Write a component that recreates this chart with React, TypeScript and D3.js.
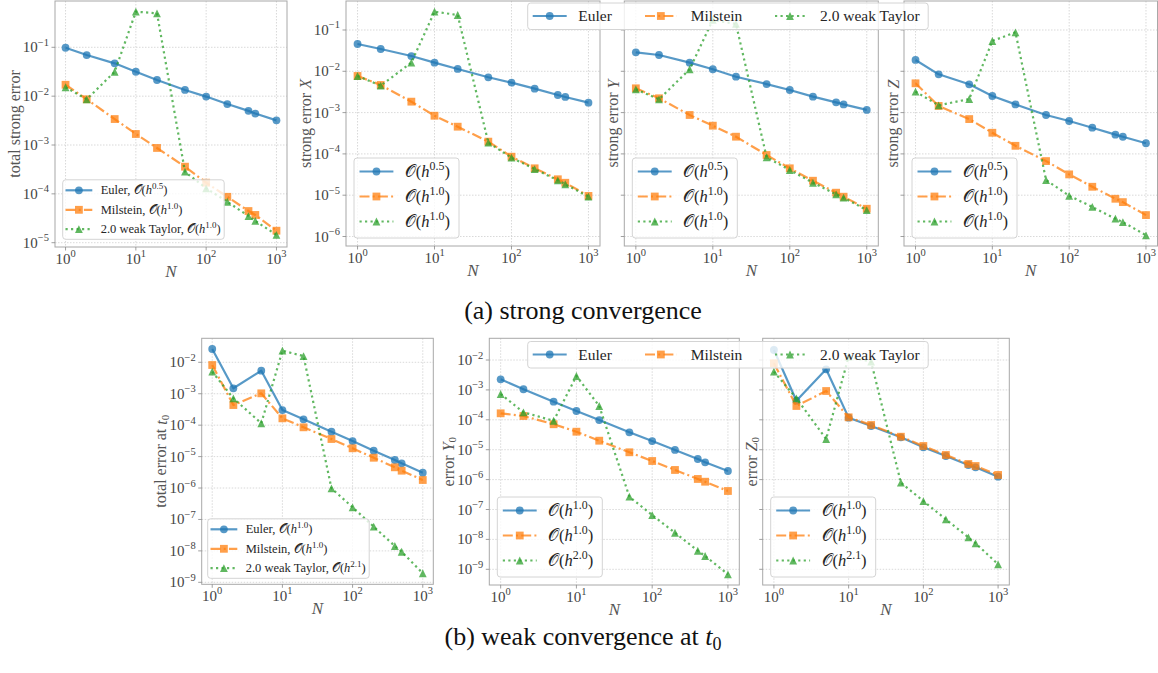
import React from 'react';
import * as d3 from 'd3';

// step counts used for every panel
const N = [1, 2, 5, 10, 20, 50, 100, 200, 400, 500, 1000];
const methodNames = ['Euler', 'Milstein', '2.0 weak Taylor'];
const xTickValues = [1, 10, 100, 1000];

// (a) strong convergence
const totalStrongEuler = [0.098, 0.0695, 0.047, 0.0316, 0.0214, 0.0134, 0.0098, 0.0069, 0.005, 0.0044, 0.0032];
const totalStrongMilstein = [0.0171, 0.00863, 0.0034, 0.00168, 0.00087, 0.00036, 0.000169, 8.7e-5, 4.45e-5, 3.7e-5, 1.76e-5];
const totalStrongTaylor = [0.0152, 0.00863, 0.0316, 0.536, 0.497, 0.000284, 0.00013, 6.9e-5, 3.5e-5, 2.8e-5, 1.44e-5];

const strongXEuler = [0.0458, 0.0347, 0.0234, 0.0162, 0.0114, 0.00716, 0.0053, 0.0038, 0.00267, 0.00239, 0.00174];
const strongXMilstein = [0.0077, 0.00466, 0.00184, 0.00084, 0.000456, 0.000198, 8.55e-5, 4.48e-5, 2.43e-5, 2.0e-5, 9.6e-6];
const strongXTaylor = [0.0077, 0.00449, 0.0162, 0.277, 0.231, 0.000187, 8.1e-5, 4.3e-5, 2.29e-5, 1.84e-5, 9.2e-6];

const strongYEuler = [0.0288, 0.0248, 0.0162, 0.0112, 0.0074, 0.0049, 0.00352, 0.00243, 0.00177, 0.00158, 0.00116];
const strongYMilstein = [0.00387, 0.00222, 0.000875, 0.000482, 0.000261, 9.4e-5, 4.48e-5, 2.24e-5, 1.15e-5, 9.2e-6, 4.7e-6];
const strongYTaylor = [0.00366, 0.0021, 0.0112, 0.175, 0.14, 8.3e-5, 4.07e-5, 2.0e-5, 1.05e-5, 8.7e-6, 4.37e-6];

const strongZEuler = [0.0188, 0.00845, 0.00484, 0.00252, 0.00158, 0.000875, 0.000626, 0.000431, 0.000292, 0.00026, 0.000181];
const strongZMilstein = [0.00512, 0.00145, 0.000697, 0.000325, 0.000157, 6.7e-5, 3.19e-5, 1.6e-5, 8.2e-6, 6.8e-6, 3.3e-6];
const strongZTaylor = [0.00322, 0.0015, 0.00213, 0.0542, 0.088, 2.33e-5, 9.7e-6, 5.2e-6, 2.7e-6, 2.24e-6, 1.07e-6];

// (b) weak convergence at t0
const weakTotalEuler = [0.0265, 0.00149, 0.0054, 0.000303, 0.000153, 6.2e-5, 3.13e-5, 1.54e-5, 7.8e-6, 6.1e-6, 3.07e-6];
const weakTotalMilstein = [0.0082, 0.000437, 0.00103, 0.000165, 8.55e-5, 3.63e-5, 1.84e-5, 9.2e-6, 4.56e-6, 3.56e-6, 1.8e-6];
const weakTotalTaylor = [0.00502, 0.000716, 0.000115, 0.0234, 0.0158, 9.8e-7, 2.44e-7, 5.9e-8, 1.43e-8, 9.4e-9, 1.94e-9];

const weakYEuler = [0.00226, 0.00105, 0.000403, 0.000197, 9.8e-5, 3.82e-5, 1.95e-5, 9.8e-6, 4.89e-6, 3.79e-6, 1.94e-6];
const weakYMilstein = [0.000165, 0.000134, 7.1e-5, 4.0e-5, 2.0e-5, 8.2e-6, 4.19e-6, 2.1e-6, 1.05e-6, 8.5e-7, 4.16e-7];
const weakYTaylor = [0.00073, 0.000178, 9.3e-5, 0.00292, 0.00029, 2.68e-7, 6.5e-8, 1.67e-8, 4.18e-9, 2.79e-9, 6.8e-10];

const weakZEuler = [0.0216, 0.000436, 0.00489, 0.000118, 6.2e-5, 2.6e-5, 1.2e-5, 6.15e-6, 3.08e-6, 2.58e-6, 1.25e-6];
const weakZMilstein = [0.00776, 0.00029, 0.000918, 0.000121, 6.7e-5, 2.72e-5, 1.33e-5, 6.65e-6, 3.33e-6, 2.85e-6, 1.43e-6];
const weakZTaylor = [0.00406, 0.000524, 2.28e-5, 0.0129, 0.00877, 7.9e-7, 1.92e-7, 4.7e-8, 1.17e-8, 7.4e-9, 1.47e-9];

// convergence orders shown in the legends
const ordersTotalStrong = ['0.5', '1.0', '1.0'];
const ordersStrongXYZ = ['0.5', '1.0', '1.0'];
const ordersWeakTotal = ['1.0', '1.0', '2.1'];
const ordersWeakY = ['1.0', '1.0', '2.0'];
const ordersWeakZ = ['1.0', '1.0', '2.1'];

const FONT = '"Liberation Serif", "DejaVu Serif", serif';
const COLORS = ['#1f77b4', '#ff7f0e', '#2ca02c'];
const DASHES = [undefined, '10,3.2,2,3.2', '2.2,3.3'];
const ALPHA = 0.75;

const Marker = ({ kind, x, y }: { kind: number; x: number; y: number }) => {
  const c = COLORS[kind];
  const s = 3.9;
  if (kind === 0) return <circle cx={x} cy={y} r={s} fill={c} fillOpacity={ALPHA} />;
  if (kind === 1) return <rect x={x - s} y={y - s} width={2 * s} height={2 * s} fill={c} fillOpacity={ALPHA} />;
  return <path d={`M${x},${y - s}L${x + s},${y + s}L${x - s},${y + s}Z`} fill={c} fillOpacity={ALPHA} />;
};

const OrderLabel = ({ prefix, order, fs }: { prefix: string; order: string; fs: number }) => (
  <>
    {prefix}
    <tspan>𝒪(</tspan>
    <tspan fontStyle="italic">h</tspan>
    <tspan dy={-0.42 * fs} fontSize={0.72 * fs}>{order}</tspan>
    <tspan dy={0.42 * fs}>)</tspan>
  </>
);

interface LegendProps {
  x: number;
  y: number;
  big: boolean;
  prefixes: string[];
  orders: string[];
}

const PanelLegend = ({ x, y, big, prefixes, orders }: LegendProps) => {
  const fs = big ? 16.5 : 12.5;
  const w = big ? 105 : 161.5;
  const h = big ? 80 : 59.5;
  const rows = big ? [13.5, 38.5, 63.5] : [10.5, 30, 49.3];
  const lx0 = big ? 5.5 : 2.8;
  const lx1 = big ? 39.4 : 29.6;
  const tx = big ? 50.8 : 38;
  return (
    <g>
      <rect x={x} y={y} width={w} height={h} rx={3} fill="white" fillOpacity={0.8} stroke="#d4d4d4" strokeWidth={1} />
      {rows.map((ry, i) => (
        <g key={i}>
          <line x1={x + lx0} x2={x + lx1} y1={y + ry} y2={y + ry} stroke={COLORS[i]} strokeOpacity={ALPHA}
            strokeWidth={2.2} strokeDasharray={DASHES[i]} />
          <Marker kind={i} x={x + (lx0 + lx1) / 2} y={y + ry} />
          <text x={x + tx} y={y + ry + fs * 0.33} fontSize={fs} fill="#262626" fontFamily={FONT}>
            <OrderLabel prefix={prefixes[i]} order={orders[i]} fs={fs} />
          </text>
        </g>
      ))}
    </g>
  );
};

const FigureLegend = ({ x, y }: { x: number; y: number }) => {
  const cols = [
    { l0: 5, l1: 39, t: 50.6 },
    { l0: 117.3, l1: 149, t: 163 },
    { l0: 247.3, l1: 277.3, t: 292.3 },
  ];
  const cy = y + 13;
  return (
    <g>
      <rect x={x} y={y} width={400.5} height={26.5} rx={3} fill="white" fillOpacity={0.8} stroke="#d4d4d4" strokeWidth={1} />
      {cols.map((c, i) => (
        <g key={i}>
          <line x1={x + c.l0} x2={x + c.l1} y1={cy} y2={cy} stroke={COLORS[i]} strokeOpacity={ALPHA}
            strokeWidth={2.2} strokeDasharray={DASHES[i]} />
          <Marker kind={i} x={x + (c.l0 + c.l1) / 2} y={cy} />
          <text x={x + c.t} y={cy + 5.2} fontSize={15.5} fill="#262626" fontFamily={FONT}>{methodNames[i]}</text>
        </g>
      ))}
    </g>
  );
};

interface PanelProps {
  x0: number; x1: number; y0: number; y1: number;
  yLogLo: number; yLogHi: number;
  yTickExps: number[];
  yTickLabels: boolean;
  ylabel: React.ReactNode;
  series: number[][];
  legend: { big: boolean; prefixes: string[]; orders: string[]; inset: number };
}

const Panel = (p: PanelProps) => {
  const x = d3.scaleLog().domain([Math.pow(10, -0.15), Math.pow(10, 3.15)]).range([p.x0, p.x1]);
  const y = d3.scaleLog().domain([Math.pow(10, p.yLogLo), Math.pow(10, p.yLogHi)]).range([p.y1, p.y0]);
  const line = d3.line<number>().x((_, i) => x(N[i])).y(d => y(d));
  const labelX = p.yTickLabels ? p.x0 - 41 : p.x0 - 11.5;
  const midY = (p.y0 + p.y1) / 2;
  const midX = (p.x0 + p.x1) / 2;
  return (
    <g fontFamily={FONT}>
      {/* grid */}
      {xTickValues.map(v => (
        <line key={'gx' + v} x1={x(v)} x2={x(v)} y1={p.y0} y2={p.y1} stroke="#cfcfcf" strokeWidth={0.8} strokeDasharray="1.5,1.5" />
      ))}
      {p.yTickExps.map(e => (
        <line key={'gy' + e} x1={p.x0} x2={p.x1} y1={y(Math.pow(10, e))} y2={y(Math.pow(10, e))} stroke="#cfcfcf" strokeWidth={0.8} strokeDasharray="1.5,1.5" />
      ))}
      {/* series */}
      {p.series.map((vals, k) => (
        <g key={k}>
          <path d={line(vals) || ''} fill="none" stroke={COLORS[k]} strokeOpacity={ALPHA} strokeWidth={2.2}
            strokeDasharray={DASHES[k]} strokeLinejoin="round" />
          {vals.map((v, i) => <Marker key={i} kind={k} x={x(N[i])} y={y(v)} />)}
        </g>
      ))}
      {/* frame */}
      <rect x={p.x0} y={p.y0} width={p.x1 - p.x0} height={p.y1 - p.y0} fill="none" stroke="#a8a8a8" strokeWidth={1} />
      {/* x ticks */}
      {xTickValues.map((v, i) => (
        <g key={'tx' + v}>
          <line x1={x(v)} x2={x(v)} y1={p.y1} y2={p.y1 + 3.5} stroke="#888" strokeWidth={0.8} />
          <text x={x(v)} y={p.y1 + 16.5} textAnchor="middle" fontSize={15} fill="#444">
            10<tspan dy={-6.5} fontSize={10.5}>{i}</tspan>
          </text>
        </g>
      ))}
      {/* y ticks */}
      {p.yTickExps.map(e => (
        <g key={'ty' + e}>
          <line x1={p.x0 - 3.5} x2={p.x0} y1={y(Math.pow(10, e))} y2={y(Math.pow(10, e))} stroke="#888" strokeWidth={0.8} />
          {p.yTickLabels && (
            <text x={p.x0 - 6} y={y(Math.pow(10, e)) + 5} textAnchor="end" fontSize={15} fill="#444">
              10<tspan dy={-6.5} fontSize={10.5}>{'\u2212' + Math.abs(e)}</tspan>
            </text>
          )}
        </g>
      ))}
      <text x={midX} y={p.y1 + 30} textAnchor="middle" fontSize={17} fontStyle="italic" fill="#555">N</text>
      <text transform={`translate(${labelX},${midY}) rotate(-90)`} textAnchor="middle" dominantBaseline="central"
        fontSize={16} fill="#555">{p.ylabel}</text>
      <PanelLegend x={p.x0 + p.legend.inset} y={p.y1 - p.legend.inset - (p.legend.big ? 80 : 59.5)}
        big={p.legend.big} prefixes={p.legend.prefixes} orders={p.legend.orders} />
    </g>
  );
};

const longPrefixes = methodNames.map(m => m + ', ');
const noPrefixes = ['', '', ''];

const App = () => {
  const strongTicks1 = [-1, -2, -3, -4, -5];
  const strongTicks2 = [-1, -2, -3, -4, -5, -6];
  const weakTicks = [-2, -3, -4, -5, -6, -7, -8, -9];
  const topY = { y0: 1, y1: 246, yLogLo: -6.23, yLogHi: -0.298 };
  const botY = { y0: 338.3, y1: 585, yLogLo: -9.525, yLogHi: -1.274 };
  const bigLegend = (orders: string[]) => ({ big: true, prefixes: noPrefixes, orders, inset: 8 });
  return (
    <div style={{ position: 'absolute', left: 0, top: 0 }}>
      <svg width={1158} height={673} style={{ display: 'block', background: 'white' }}>
        <Panel x0={55} x1={287} y0={1} y1={247} yLogLo={-5.088} yLogHi={-0.052} yTickExps={strongTicks1} yTickLabels
          ylabel="total strong error" series={[totalStrongEuler, totalStrongMilstein, totalStrongTaylor]}
          legend={{ big: false, prefixes: longPrefixes, orders: ordersTotalStrong, inset: 7.7 }} />
        <Panel x0={346} x1={600} {...topY} yTickExps={strongTicks2} yTickLabels
          ylabel={<>strong error <tspan fontStyle="italic">X</tspan></>}
          series={[strongXEuler, strongXMilstein, strongXTaylor]} legend={bigLegend(ordersStrongXYZ)} />
        <Panel x0={624.3} x1={878.3} {...topY} yTickExps={strongTicks2} yTickLabels={false}
          ylabel={<>strong error <tspan fontStyle="italic">Y</tspan></>}
          series={[strongYEuler, strongYMilstein, strongYTaylor]} legend={bigLegend(ordersStrongXYZ)} />
        <Panel x0={904} x1={1157.5} {...topY} yTickExps={strongTicks2} yTickLabels={false}
          ylabel={<>strong error <tspan fontStyle="italic">Z</tspan></>}
          series={[strongZEuler, strongZMilstein, strongZTaylor]} legend={bigLegend(ordersStrongXYZ)} />
        <FigureLegend x={527.7} y={3} />
        <text x={583} y={319} textAnchor="middle" fontSize={26} fontFamily={FONT} fill="#111">(a) strong convergence</text>

        <Panel x0={201.7} x1={433.3} y0={338.3} y1={584.3} yLogLo={-9.063} yLogHi={-1.236} yTickExps={weakTicks} yTickLabels
          ylabel={<>total error at <tspan fontStyle="italic">t</tspan><tspan dy={4} fontSize={11}>0</tspan></>}
          series={[weakTotalEuler, weakTotalMilstein, weakTotalTaylor]}
          legend={{ big: false, prefixes: longPrefixes, orders: ordersWeakTotal, inset: 6 }} />
        <Panel x0={489.3} x1={739.3} {...botY} yTickExps={weakTicks} yTickLabels
          ylabel={<>error <tspan fontStyle="italic">Y</tspan><tspan dy={4} fontSize={11}>0</tspan></>}
          series={[weakYEuler, weakYMilstein, weakYTaylor]} legend={bigLegend(ordersWeakY)} />
        <Panel x0={762.7} x1={1009.3} {...botY} yTickExps={weakTicks} yTickLabels={false}
          ylabel={<>error <tspan fontStyle="italic">Z</tspan><tspan dy={4} fontSize={11}>0</tspan></>}
          series={[weakZEuler, weakZMilstein, weakZTaylor]} legend={bigLegend(ordersWeakZ)} />
        <FigureLegend x={527.7} y={341.5} />
        <text x={583} y={645} textAnchor="middle" fontSize={26} fontFamily={FONT} fill="#111">
          (b) weak convergence at <tspan fontStyle="italic">t</tspan><tspan dy={5} fontSize={18}>0</tspan>
        </text>
      </svg>
    </div>
  );
};

export default App;
